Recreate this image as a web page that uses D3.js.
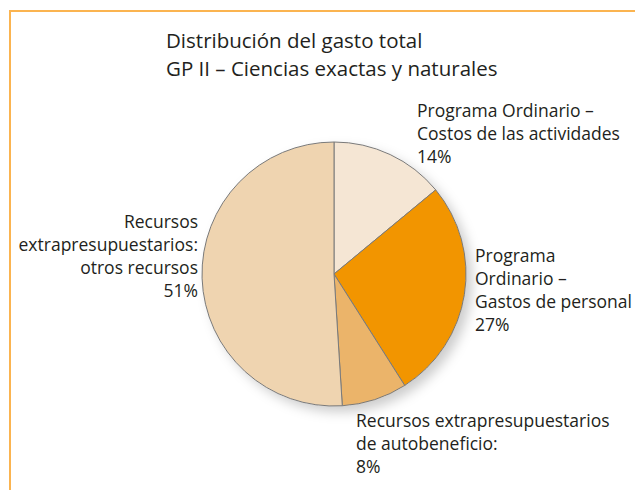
<!DOCTYPE html>
<html>
<head>
<meta charset="utf-8">
<script src="https://cdn.jsdelivr.net/npm/d3@7"></script>
<style>
  body { margin: 0; background: #fff; }
  svg text { font-family: "Open Sans", sans-serif; fill: #231f20; }
</style>
</head>
<body>
<svg id="chart" width="635" height="490"></svg>
<script>
var width = 635,
    height = 490;

var titleLines = ["Distribución del gasto total", "GP II – Ciencias exactas y naturales"];

var categories = [
    "Programa Ordinario – Costos de las actividades",
    "Programa Ordinario – Gastos de personal",
    "Recursos extrapresupuestarios de autobeneficio",
    "Recursos extrapresupuestarios: otros recursos"
];
var values = [14, 27, 8, 51];
var colors = ["#f5e6d4", "#f29500", "#ebb46a", "#efd4b0"];

// label lines per slice, last line is the percentage
var labelLines = [
    ["Programa Ordinario –", "Costos de las actividades"],
    ["Programa", "Ordinario –", "Gastos de personal"],
    ["Recursos extrapresupuestarios", "de autobeneficio:"],
    ["Recursos", "extrapresupuestarios:", "otros recursos"]
];
var labelPos = [
    { x: 417, y: 117, anchor: "start" },
    { x: 475, y: 262, anchor: "start" },
    { x: 356, y: 427, anchor: "start" },
    { x: 198, y: 228, anchor: "end" }
];

var cx = 334, cy = 274, radius = 132;
var lineH = 23;

var svg = d3.select("#chart");

var defs = svg.append("defs");
var shadow = defs.append("filter")
    .attr("id", "shadow")
    .attr("x", "-20%").attr("y", "-20%")
    .attr("width", "150%").attr("height", "150%");
shadow.append("feDropShadow")
    .attr("dx", 6).attr("dy", 6)
    .attr("stdDeviation", 6)
    .attr("flood-color", "#000")
    .attr("flood-opacity", 0.2);

// frame
svg.append("path")
    .attr("d", "M10," + height + " V11 H" + width)
    .attr("fill", "none")
    .attr("stroke", "#fbb450")
    .attr("stroke-width", 2);

svg.selectAll(".title")
    .data(titleLines)
    .enter()
    .append("text")
        .attr("class", "title")
        .attr("x", 166)
        .attr("y", (d, i) => 48 + i * 28)
        .style("font-size", "20.5px")
        .text(d => d);

var pie = d3.pie().sort(null).value(d => d);
var arc = d3.arc().innerRadius(0).outerRadius(radius);

var g = svg.append("g")
    .attr("transform", "translate(" + cx + "," + cy + ")");

g.append("circle")
    .attr("r", radius)
    .attr("fill", "#fff")
    .attr("filter", "url(#shadow)");

g.selectAll(".slice")
    .data(pie(values))
    .enter()
    .append("path")
        .attr("class", "slice")
        .attr("d", arc)
        .attr("fill", (d, i) => colors[i])
        .attr("stroke", "#7a7a7a")
        .attr("stroke-width", 1);

var format = d3.format("d");

labelLines.forEach(function(lines, i) {
    var all = lines.concat([format(values[i]) + "%"]);
    svg.append("text")
        .attr("text-anchor", labelPos[i].anchor)
        .style("font-size", "17.5px")
        .selectAll("tspan")
        .data(all)
        .enter()
        .append("tspan")
            .attr("x", labelPos[i].x)
            .attr("y", (d, j) => labelPos[i].y + j * lineH)
            .text(d => d);
});
</script>
</body>
</html>
